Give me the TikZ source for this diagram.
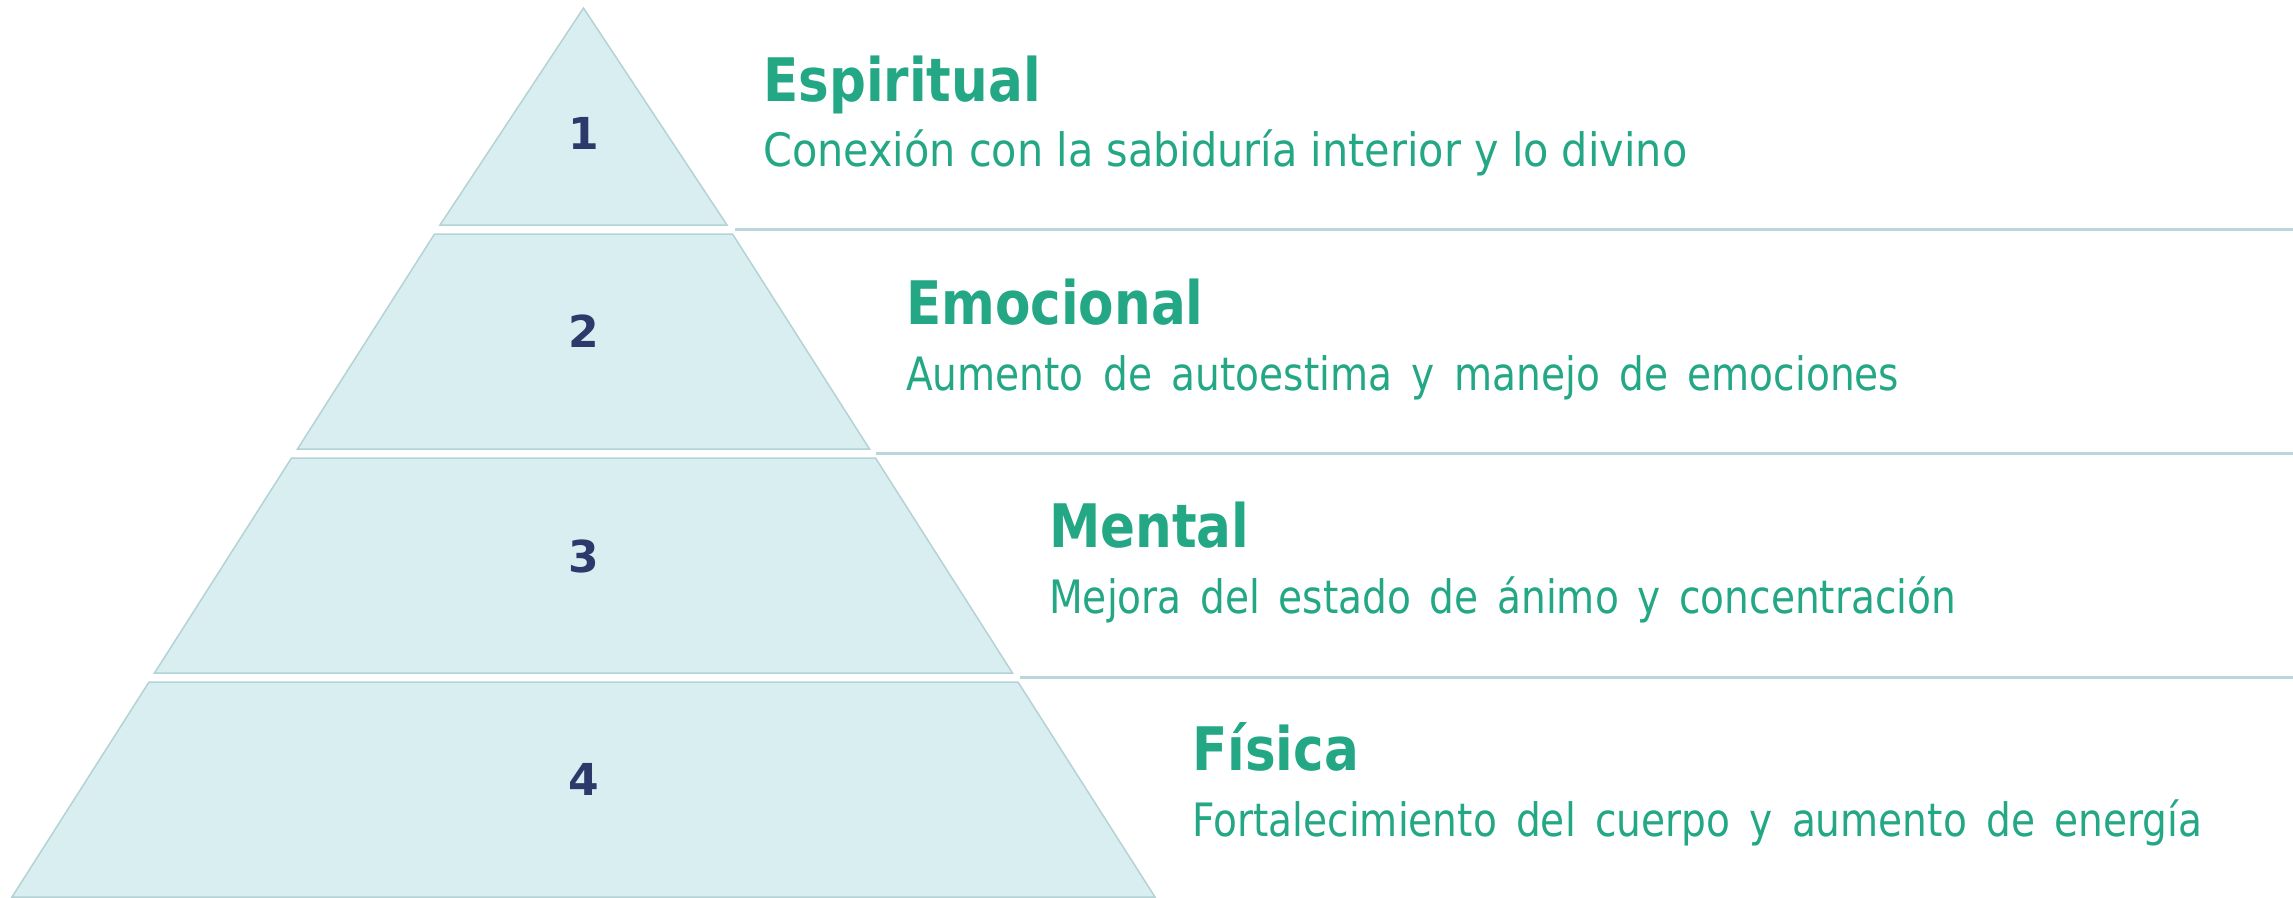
\documentclass[tikz,border=0pt]{standalone}
\usepackage{fontspec}
\setmainfont{DejaVu Sans}
\newfontfamily\titlefont{DejaVu Sans}[FakeStretch=0.86]
\newfontfamily\subfont{DejaVu Sans}[FakeStretch=0.90]
\newfontfamily\subfontn{DejaVu Sans}[FakeStretch=0.85]
\definecolor{tierfill}{HTML}{D8EEF0}
\definecolor{tierdraw}{HTML}{B5D2D5}
\definecolor{sepline}{HTML}{BDD6D9}
\definecolor{txtgreen}{HTML}{23A784}
\definecolor{numnavy}{HTML}{2B3A6B}
\begin{document}
\begin{tikzpicture}[x=1pt,y=-1pt,
  tier/.style={fill=tierfill,draw=tierdraw,line width=1.5pt,line join=miter},
  sepstyle/.style={draw=sepline,line width=2.5pt},
  numlabel/.style={inner sep=0pt,text=numnavy,font=\fontsize{44}{48}\selectfont\bfseries},
  ttl/.style={inner sep=0pt,anchor=base west,text=txtgreen,font=\titlefont\fontsize{60}{64}\selectfont\bfseries},
  sub/.style={inner sep=0pt,anchor=base west,text=txtgreen,font=\subfont\fontsize{46}{50}\selectfont},
  subn/.style={sub,font=\subfontn\fontsize{46}{50}\selectfont}]
\useasboundingbox (0,0) rectangle (2293,897);
% tiers
\draw[tier] (583.5,8) -- (727,225) -- (440,225) -- cycle;
\draw[tier] (434.5,234) -- (732.5,234) -- (869.5,449) -- (297.5,449) -- cycle;
\draw[tier] (291.5,458) -- (875.5,458) -- (1012.5,673) -- (154.5,673) -- cycle;
\draw[tier] (149,682) -- (1018,682) -- (1155,897) -- (12,897) -- cycle;
% separator lines
\coordinate (l1a) at (735,229.5); \coordinate (l1b) at (2293,229.5);
\coordinate (l2a) at (876,453.5); \coordinate (l2b) at (2293,453.5);
\coordinate (l3a) at (1020,677.5); \coordinate (l3b) at (2293,677.5);
\draw[sepstyle] (l1a) -- (l1b);
\draw[sepstyle] (l2a) -- (l2b);
\draw[sepstyle] (l3a) -- (l3b);
% numbers
\node[numlabel] (n1) at (583.5,133) {1};
\node[numlabel] (n2) at (583.5,331) {2};
\node[numlabel] (n3) at (583.5,556) {3};
\node[numlabel] (n4) at (583.5,779) {4};
% titles
\node[ttl] (t1) at (763,101) {Espiritual};
\node[ttl] (t2) at (906,324) {Emocional};
\node[ttl] (t3) at (1049,547) {Mental};
\node[ttl] (t4) at (1192,770) {Física};
% subtitles
\node[sub] (s1) at (763,166) {\makebox[924pt][s]{Conexión con la sabiduría interior y lo divino}};
\node[subn] (s2) at (906,390) {\makebox[993pt][s]{Aumento de autoestima y manejo de emociones}};
\node[subn] (s3) at (1049,613) {\makebox[907pt][s]{Mejora del estado de ánimo y concentración}};
\node[subn] (s4) at (1192,836) {\makebox[1010pt][s]{Fortalecimiento del cuerpo y aumento de energía}};
\end{tikzpicture}
\end{document}
